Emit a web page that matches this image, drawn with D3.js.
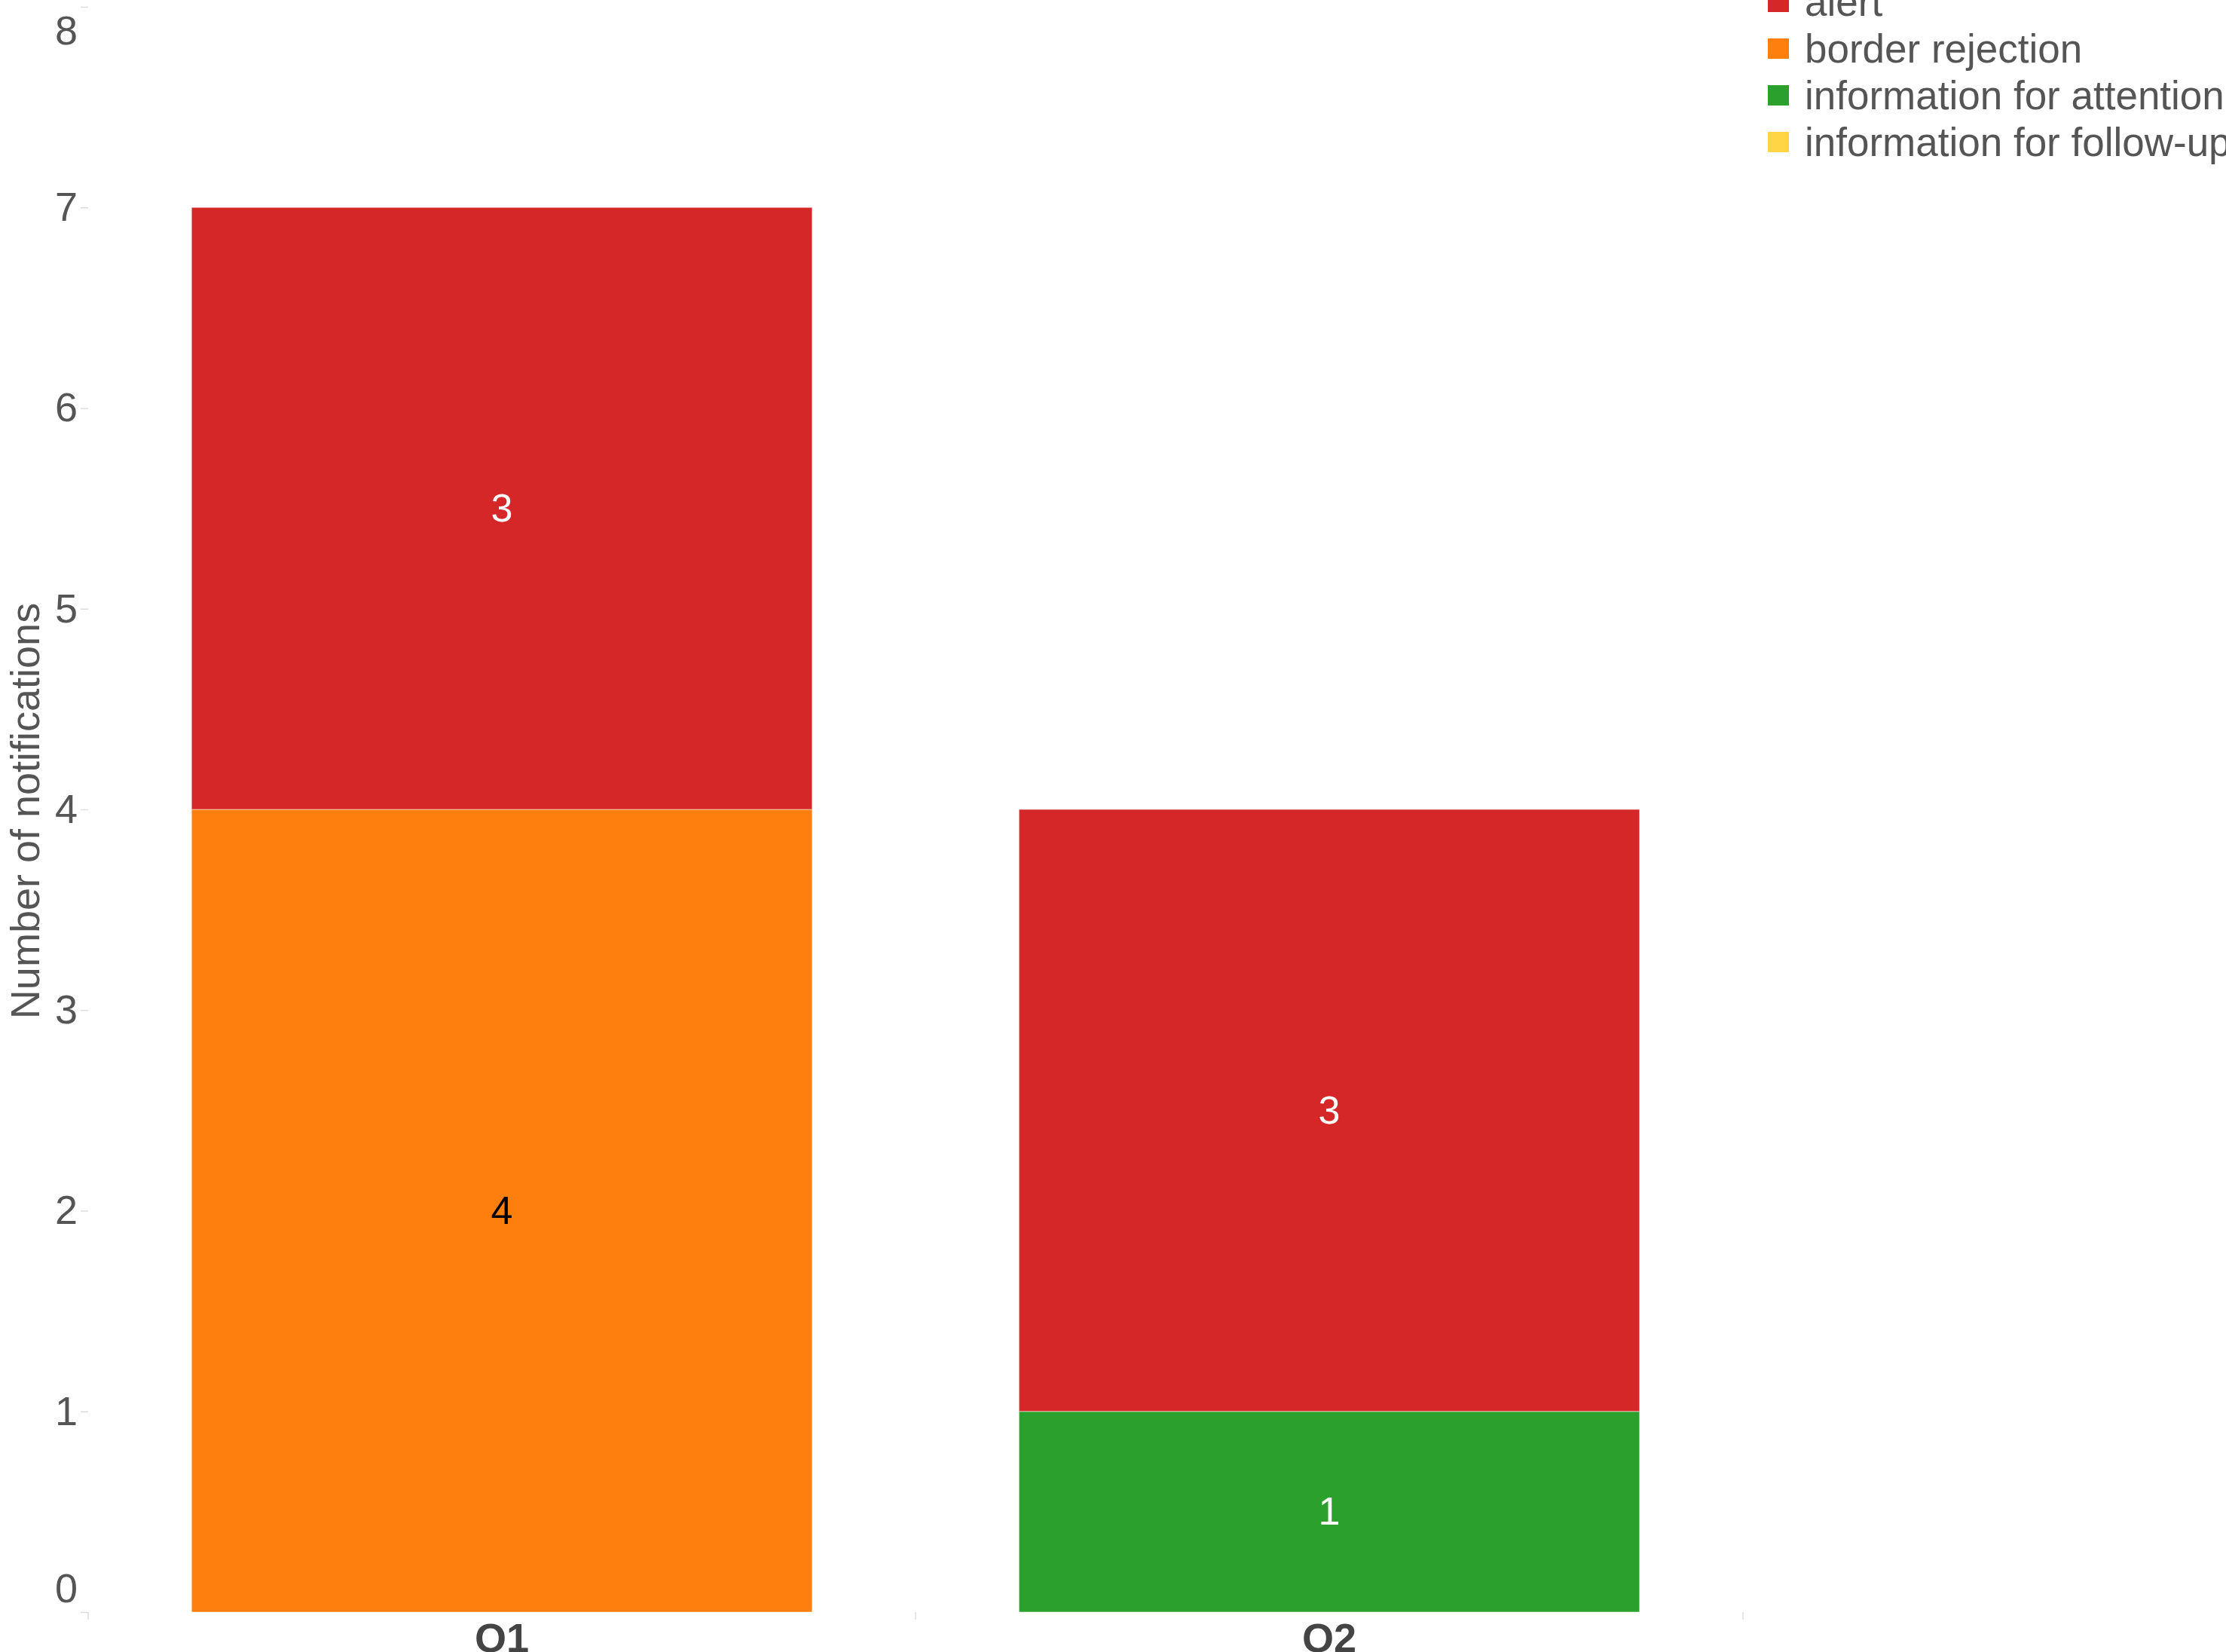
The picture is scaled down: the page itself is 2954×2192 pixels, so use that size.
<!DOCTYPE html>
<html>
<head>
<meta charset="utf-8">
<script src="https://cdn.jsdelivr.net/npm/d3@7"></script>
<style>
  html, body { margin: 0; padding: 0; background: #ffffff; overflow: hidden; }
  svg { display: block; }
  text { font-family: "Liberation Sans", Arial, sans-serif; }
</style>
</head>
<body>
<script>
// ---- data ----
const categories = ["Q1", "Q2"];
const seriesNames = ["alert", "border rejection", "information for attention", "information for follow-up"];
const alertValues = [3, 3];
const borderRejectionValues = [4, 0];
const attentionValues = [0, 1];
const followUpValues = [0, 0];
const seriesColors = ["#d62728", "#ff7f0e", "#2ca02c", "#ffd546"];
const labelColors = ["#ffffff", "#000000", "#ffffff", "#000000"];
const yTicks = [0, 1, 2, 3, 4, 5, 6, 7, 8];
const yTitle = "Number of notifications";

// ---- build table ----
const valuesBySeries = {
  "alert": alertValues,
  "border rejection": borderRejectionValues,
  "information for attention": attentionValues,
  "information for follow-up": followUpValues
};
const table = categories.map((c, i) => {
  const row = { cat: c };
  seriesNames.forEach(s => row[s] = valuesBySeries[s][i]);
  return row;
});
const stackOrder = ["border rejection", "information for attention", "information for follow-up", "alert"];
const stacked = d3.stack().keys(stackOrder)(table);
const colorOf = d3.scaleOrdinal().domain(seriesNames).range(seriesColors);
const labelColorOf = d3.scaleOrdinal().domain(seriesNames).range(labelColors);

// ---- layout ----
const W = 2954, H = 2192;
const x0 = 117, x1 = 2313, yBottom = 2139, yTop = 9;

const svg = d3.select("body").append("svg").attr("width", W).attr("height", H);

const x = d3.scaleBand().domain(categories).range([x0, x1]).paddingInner(0.25).paddingOuter(0.125);
const y = d3.scaleLinear().domain([0, 8]).range([yBottom, yTop]);

// bars
const layers = svg.append("g").selectAll("g").data(stacked).join("g")
  .attr("fill", d => colorOf(d.key));
layers.selectAll("rect").data(d => d.map(v => ({ key: d.key, v }))).join("rect")
  .filter(d => d.v[1] - d.v[0] > 0)
  .attr("x", d => x(d.v.data.cat))
  .attr("width", x.bandwidth())
  .attr("y", d => y(d.v[1]))
  .attr("height", d => y(d.v[0]) - y(d.v[1]))
  .attr("stroke", "rgba(255,255,255,0.5)")
  .attr("stroke-width", 1);

// data labels
const labelData = [];
stacked.forEach(layer => layer.forEach(v => {
  if (v[1] - v[0] > 0) labelData.push({ key: layer.key, v });
}));
svg.append("g").selectAll("text").data(labelData).join("text")
  .attr("x", d => x(d.v.data.cat) + x.bandwidth() / 2)
  .attr("y", d => y((d.v[0] + d.v[1]) / 2))
  .attr("dy", "0.33em")
  .attr("text-anchor", "middle")
  .attr("font-size", 52)
  .attr("fill", d => labelColorOf(d.key))
  .text(d => d.v[1] - d.v[0]);

// y axis
const yAxis = d3.axisLeft(y).tickValues(yTicks).tickSize(10).tickPadding(4).tickFormat(d3.format("d"));
const gy = svg.append("g").attr("transform", `translate(${x0},0)`).call(yAxis);
gy.select(".domain").remove();
gy.selectAll(".tick line").attr("stroke", "#dcdcdc").attr("stroke-width", 1.5);
gy.selectAll(".tick text")
  .attr("font-size", 54)
  .attr("font-family", "'Liberation Sans', Arial, sans-serif")
  .attr("fill", "#555555")
  .attr("dy", d => d === 8 ? "0.92em" : d === 0 ? "-0.25em" : "0.32em");

// x axis ticks at band boundaries
const boundaries = [x0, ...categories.map(c => x(c) + x.bandwidth() / 2 + x.step() / 2)];
svg.append("g").selectAll("line").data(boundaries).join("line")
  .attr("x1", d => d).attr("x2", d => d)
  .attr("y1", yBottom).attr("y2", yBottom + 10)
  .attr("stroke", "#dcdcdc").attr("stroke-width", 1.5);

// x labels
svg.append("g").selectAll("text").data(categories).join("text")
  .attr("x", d => x(d) + x.bandwidth() / 2)
  .attr("y", 2192)
  .attr("text-anchor", "middle")
  .attr("font-size", 54)
  .attr("font-weight", "bold")
  .attr("fill", "#444444")
  .text(d => d);

// y title
svg.append("text")
  .attr("transform", `translate(52,${(y(0) + y(8)) / 2 + 2}) rotate(-90)`)
  .attr("text-anchor", "middle")
  .attr("font-size", 54)
  .attr("fill", "#555555")
  .text(yTitle);

// legend
const legend = svg.append("g").attr("transform", "translate(2346,0)");
const items = legend.selectAll("g").data(seriesNames).join("g")
  .attr("transform", (d, i) => `translate(0,${21 + i * 62})`);
items.append("rect")
  .attr("x", 0).attr("y", -32).attr("width", 28).attr("height", 27)
  .attr("fill", d => colorOf(d));
items.append("text")
  .attr("x", 49).attr("y", 0)
  .attr("font-size", 53)
  .attr("fill", "#555555")
  .text(d => d);
</script>
</body>
</html>
